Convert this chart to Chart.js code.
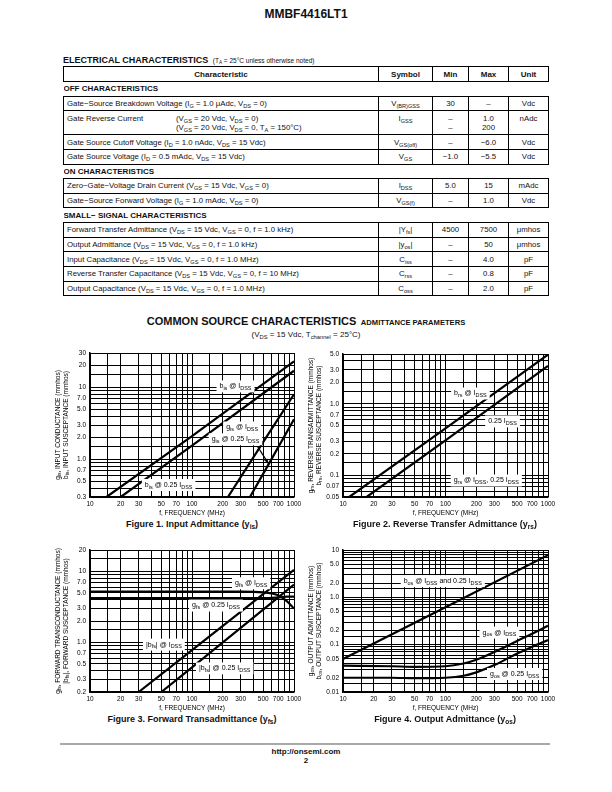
<!DOCTYPE html>
<html><head><meta charset="utf-8">
<script src="https://cdn.jsdelivr.net/npm/chart.js@4.4.1/dist/chart.umd.min.js"></script>
<style>
body{margin:0;background:#fff;}
#page{position:relative;width:612px;height:792px;overflow:hidden;font-family:"Liberation Sans",Arial,sans-serif;color:#111;}
.abs{position:absolute;white-space:nowrap;}
.narrow{font-family:"Liberation Sans Narrow","Liberation Sans",Arial,sans-serif;font-stretch:condensed;}
sub{font-size:72%;vertical-align:-0.3em;line-height:0;}
table{position:absolute;left:63px;top:66px;width:485px;border-collapse:collapse;table-layout:fixed;font-size:7.8px;line-height:9px;}
td,th{border:1px solid #000;padding:0 3px;text-align:center;white-space:nowrap;overflow:hidden;}
td.c{text-align:left;}
th{font-family:"Liberation Sans Narrow","Liberation Sans",Arial,sans-serif;font-weight:bold;font-size:8px;}
tr.h{height:15px;}
tr.r{height:14.7px;}
tr.d{height:24px;}
tr.d td{vertical-align:top;padding-top:2.5px;}
td.sec{border-left:none;border-right:none;text-align:left;padding-left:0;font-family:"Liberation Sans Narrow","Liberation Sans",Arial,sans-serif;font-weight:bold;font-size:8px;}
tr.s{height:14.5px;}
canvas{position:absolute;}
.cap{font-weight:bold;font-size:9px;text-align:center;width:300px;line-height:10px;}
</style></head>
<body><div id="page">
<div class="abs" style="left:0;width:612px;top:8px;text-align:center;font-weight:bold;font-size:12px;line-height:12px;">MMBF4416LT1</div>
<div class="abs" style="left:63px;top:53px;line-height:10px;"><span class="narrow" style="font-weight:bold;font-size:9px;">ELECTRICAL CHARACTERISTICS</span> <span style="font-size:6.5px;">(T<sub>A</sub> = 25°C unless otherwise noted)</span></div>
<table>
<colgroup><col style="width:315px"><col style="width:54px"><col style="width:36px"><col style="width:40px"><col style="width:40px"></colgroup>
<tr class="h"><th>Characteristic</th><th>Symbol</th><th>Min</th><th>Max</th><th>Unit</th></tr>
<tr class="s"><td class="sec" colspan="5">OFF CHARACTERISTICS</td></tr>
<tr class="r"><td class="c">Gate−Source Breakdown Voltage (I<sub>G</sub> = 1.0 μAdc, V<sub>DS</sub> = 0)</td><td>V<sub>(BR)GSS</sub></td><td>30</td><td>–</td><td>Vdc</td></tr>
<tr class="d"><td class="c"><span style="display:inline-block;width:109px;">Gate Reverse Current</span><span style="display:inline-block;vertical-align:top;">(V<sub>GS</sub> = 20 Vdc, V<sub>DS</sub> = 0)<br>(V<sub>GS</sub> = 20 Vdc, V<sub>DS</sub> = 0, T<sub>A</sub> = 150°C)</span></td><td>I<sub>GSS</sub></td><td>–<br>–</td><td>1.0<br>200</td><td>nAdc</td></tr>
<tr class="r"><td class="c">Gate Source Cutoff Voltage (I<sub>D</sub> = 1.0 nAdc, V<sub>DS</sub> = 15 Vdc)</td><td>V<sub>GS(off)</sub></td><td>–</td><td>−6.0</td><td>Vdc</td></tr>
<tr class="r"><td class="c">Gate Source Voltage (I<sub>D</sub> = 0.5 mAdc, V<sub>DS</sub> = 15 Vdc)</td><td>V<sub>GS</sub></td><td>−1.0</td><td>−5.5</td><td>Vdc</td></tr>
<tr class="s"><td class="sec" colspan="5">ON CHARACTERISTICS</td></tr>
<tr class="r"><td class="c">Zero−Gate−Voltage Drain Current (V<sub>GS</sub> = 15 Vdc, V<sub>GS</sub> = 0)</td><td>I<sub>DSS</sub></td><td>5.0</td><td>15</td><td>mAdc</td></tr>
<tr class="r"><td class="c">Gate−Source Forward Voltage (I<sub>G</sub> = 1.0 mAdc, V<sub>DS</sub> = 0)</td><td>V<sub>GS(f)</sub></td><td>–</td><td>1.0</td><td>Vdc</td></tr>
<tr class="s"><td class="sec" colspan="5">SMALL− SIGNAL CHARACTERISTICS</td></tr>
<tr class="r"><td class="c">Forward Transfer Admittance (V<sub>DS</sub> = 15 Vdc, V<sub>GS</sub> = 0, f = 1.0 kHz)</td><td>|Y<sub>fs</sub>|</td><td>4500</td><td>7500</td><td>μmhos</td></tr>
<tr class="r"><td class="c">Output Admittance (V<sub>DS</sub> = 15 Vdc, V<sub>GS</sub> = 0, f = 1.0 kHz)</td><td>|y<sub>os</sub>|</td><td>–</td><td>50</td><td>μmhos</td></tr>
<tr class="r"><td class="c">Input Capacitance (V<sub>DS</sub> = 15 Vdc, V<sub>GS</sub> = 0, f = 1.0 MHz)</td><td>C<sub>iss</sub></td><td>–</td><td>4.0</td><td>pF</td></tr>
<tr class="r"><td class="c">Reverse Transfer Capacitance (V<sub>DS</sub> = 15 Vdc, V<sub>GS</sub> = 0, f = 10 MHz)</td><td>C<sub>rss</sub></td><td>–</td><td>0.8</td><td>pF</td></tr>
<tr class="r"><td class="c">Output Capacitance (V<sub>DS</sub> = 15 Vdc, V<sub>GS</sub> = 0, f = 1.0 MHz)</td><td>C<sub>oss</sub></td><td>–</td><td>2.0</td><td>pF</td></tr>
</table>

<div class="abs" style="left:0;width:612px;top:314px;text-align:center;font-weight:bold;line-height:12px;"><span style="font-size:11px;">COMMON SOURCE CHARACTERISTICS</span> <span style="font-size:7.6px;">ADMITTANCE PARAMETERS</span></div>
<div class="abs" style="left:0;width:612px;top:330px;text-align:center;font-size:8px;line-height:9px;">(V<sub>DS</sub> = 15 Vdc, T<sub>channel</sub> = 25°C)</div>

<canvas id="c1"></canvas><canvas id="c2"></canvas><canvas id="c3"></canvas><canvas id="c4"></canvas>

<div class="abs cap" style="left:42px;top:519px;">Figure 1. Input Admittance (y<sub>is</sub>)</div>
<div class="abs cap" style="left:295px;top:519px;">Figure 2. Reverse Transfer Admittance (y<sub>rs</sub>)</div>
<div class="abs cap" style="left:42px;top:714px;">Figure 3. Forward Transadmittance (y<sub>fs</sub>)</div>
<div class="abs cap" style="left:295px;top:714px;">Figure 4. Output Admittance (y<sub>os</sub>)</div>

<div class="abs" style="left:60px;top:743px;width:490px;height:2px;background:#aaa;"></div>
<div class="abs" style="left:0;width:612px;top:747px;text-align:center;font-weight:bold;font-size:8px;line-height:9px;">http://onsemi.com<br>2</div>
</div>
<script>
// ---------- data ----------
const xGridMHz = [10,15,20,30,40,50,60,70,80,90,100,150,200,300,400,500,600,700,800,900,1000];
const xTickLabels = ['10','20','30','50','70','100','200','300','500','700','1000'];

const fig1YGrid = [0.3,0.4,0.5,0.6,0.7,0.8,0.9,1,1.5,2,3,4,5,6,7,8,9,10,15,20,30];
const fig1YLabels = ['0.3','0.5','0.7','1.0','2.0','3.0','5.0','7.0','10','20','30'];
const fig1BisIdssF = [14.5, 100, 1000];
const fig1BisIdss = [0.3, 2.1, 23];
const fig1Bis025F = [20, 100, 1000];
const fig1Bis025 = [0.3, 1.55, 17];
const fig1GisIdssF = [225, 500, 1000];
const fig1GisIdss = [0.3, 1.75, 8];
const fig1Gis025F = [370, 600, 1000];
const fig1Gis025 = [0.3, 1.0, 3.6];

const fig2YGrid = [0.05,0.06,0.07,0.08,0.09,0.1,0.15,0.2,0.3,0.4,0.5,0.6,0.7,0.8,0.9,1,1.5,2,3,4,5];
const fig2YLabels = ['0.05','0.07','0.1','0.2','0.3','0.5','0.7','1.0','2.0','3.0','5.0'];
const fig2BrsIdssF = [11.5, 100, 1000];
const fig2BrsIdss = [0.05, 0.455, 4.9];
const fig2Brs025F = [17, 100, 1000];
const fig2Brs025 = [0.05, 0.31, 3.4];

const fig3YGrid = [0.2,0.3,0.4,0.5,0.6,0.7,0.8,0.9,1,1.5,2,3,4,5,6,7,8,9,10,15,20];
const fig3YLabels = ['0.2','0.3','0.5','0.7','1.0','2.0','3.0','5.0','7.0','10','20'];
const fig3GfsIdssF = [10, 100, 300, 500, 700, 850, 1000];
const fig3GfsIdss = [5.2, 5.2, 5.2, 5.05, 4.6, 3.8, 3.0];
const fig3Gfs025F = [10, 100, 500, 700, 850, 1000];
const fig3Gfs025 = [4.2, 4.2, 4.2, 4.3, 4.4, 4.4];
const fig3BfsIdssF = [30, 100, 1000];
const fig3BfsIdss = [0.2, 0.78, 10.5];
const fig3Bfs025F = [50, 100, 1000];
const fig3Bfs025 = [0.2, 0.445, 6.5];

const fig4YGrid = [0.01,0.015,0.02,0.03,0.04,0.05,0.06,0.07,0.08,0.09,0.1,0.15,0.2,0.3,0.4,0.5,0.6,0.7,0.8,0.9,1,1.5,2,3,4,5,6,7,8,9,10];
const fig4YLabels = ['0.01','0.02','0.05','0.1','0.2','0.5','1.0','2.0','5.0','10'];
const fig4BosF = [10, 100, 1000];
const fig4Bos = [0.05, 0.62, 7.8];
const fig4GosIdssF = [10, 30, 50, 100, 150, 200, 300, 500, 700, 1000];
const fig4GosIdss = [0.036, 0.035, 0.034, 0.035, 0.04, 0.048, 0.07, 0.12, 0.17, 0.25];
const fig4Gos025F = [10, 30, 50, 100, 150, 200, 300, 500, 700, 1000];
const fig4Gos025 = [0.02, 0.02, 0.0195, 0.02, 0.022, 0.026, 0.037, 0.065, 0.09, 0.125];

// ---------- helpers ----------
const FONT = '"Liberation Sans", Arial, sans-serif';
Chart.defaults.font.family = FONT;
Chart.defaults.color = '#000';
const SUBR = 0.78;

function parseRich(s){
  const segs=[]; const re=/_\{([^}]*)\}/g; let last=0,m;
  while((m=re.exec(s))){ if(m.index>last) segs.push({t:s.slice(last,m.index),sub:false}); segs.push({t:m[1],sub:true}); last=re.lastIndex; }
  if(last<s.length) segs.push({t:s.slice(last),sub:false});
  return segs;
}
function richWidth(ctx,segs,fs){ let w=0; for(const g of segs){ ctx.font=(g.sub?fs*SUBR:fs)+'px '+FONT; w+=ctx.measureText(g.t).width; } return w; }
function drawRich(ctx,segs,x,y,fs){
  let cx=x; ctx.textBaseline='middle'; ctx.textAlign='left';
  for(const g of segs){ const sz=g.sub?fs*SUBR:fs; ctx.font=sz+'px '+FONT; ctx.fillText(g.t,cx,y+(g.sub?fs*0.3:0)); cx+=ctx.measureText(g.t).width; }
}

const notesPlugin = {
  id:'notes',
  afterDatasetsDraw(chart,args,opts){
    const {ctx, chartArea:ca, scales} = chart; const sx=scales.x, sy=scales.y;
    ctx.save();
    ctx.beginPath(); ctx.rect(ca.left,ca.top,ca.right-ca.left,ca.bottom-ca.top); ctx.clip();
    const fs=7;
    (opts.items||[]).forEach(it=>{
      const segs=parseRich(it.text); const w=richWidth(ctx,segs,fs);
      const px=sx.getPixelForValue(it.x), py=sy.getPixelForValue(it.y);
      ctx.fillStyle='#fff'; ctx.fillRect(px-w/2-3, py-fs/2-2.5, w+6, fs+5);
      ctx.fillStyle='#000'; drawRich(ctx,segs,px-w/2,py,fs);
    });
    (opts.arrows||[]).forEach(a=>{
      const x1=sx.getPixelForValue(a.from[0]), y1=sy.getPixelForValue(a.from[1]);
      const x2=sx.getPixelForValue(a.to[0]), y2=sy.getPixelForValue(a.to[1]);
      ctx.strokeStyle='#000'; ctx.lineWidth=1.2; ctx.beginPath(); ctx.moveTo(x1,y1); ctx.lineTo(x2,y2); ctx.stroke();
      const ang=Math.atan2(y2-y1,x2-x1), L=5;
      ctx.fillStyle='#000'; ctx.beginPath(); ctx.moveTo(x2,y2);
      ctx.lineTo(x2-L*Math.cos(ang-0.4), y2-L*Math.sin(ang-0.4));
      ctx.lineTo(x2-L*Math.cos(ang+0.4), y2-L*Math.sin(ang+0.4)); ctx.closePath(); ctx.fill();
    });
    ctx.restore();
  },
  afterDraw(chart,args,opts){
    const {ctx, chartArea:ca} = chart; const cy=(ca.top+ca.bottom)/2; const fs=6.5;
    (opts.yTitles||[]).forEach((t,i)=>{
      const segs=parseRich(t);
      ctx.save(); ctx.translate(ca.left+opts.yTitleOffsets[i], cy); ctx.rotate(-Math.PI/2);
      const w=richWidth(ctx,segs,fs); ctx.fillStyle='#000'; drawRich(ctx,segs,-w/2,0,fs); ctx.restore();
    });
  }
};

function labelMap(arr){ const m={}; arr.forEach(s=>{ m[String(parseFloat(s))]=s; }); return m; }

function makeChart(id, plot, yGrid, yLabels, series, notes, yTitles){
  const PL=45, PT=8, PR=14, XH=20, YW=22;
  const cv=document.getElementById(id);
  cv.width = plot.R-plot.L+PL+PR; cv.height = plot.B-plot.T+PT+XH;
  cv.style.left=(plot.L-PL)+'px'; cv.style.top=(plot.T-PT)+'px';
  const xm=labelMap(xTickLabels), ym=labelMap(yLabels);
  new Chart(cv,{
    type:'line',
    data:{datasets: series.map(s=>({
      data: s.f.map((f,i)=>({x:f,y:s.v[i]})),
      borderColor:'#000', borderWidth:2.2, pointRadius:0, fill:false,
      tension: s.curve?0.4:0, cubicInterpolationMode: s.curve?'monotone':'default'
    }))},
    options:{
      responsive:false, animation:false, devicePixelRatio:1,
      layout:{padding:{left:PL-YW, top:PT, right:PR, bottom:0}},
      plugins:{legend:{display:false}, tooltip:{enabled:false},
        notes:{items:notes.items||[], arrows:notes.arrows||[], yTitles:yTitles, yTitleOffsets:[-32,-24]}},
      scales:{
        x:{type:'logarithmic', min:10, max:1000, bounds:'data',
          afterBuildTicks:s=>{ s.ticks = xGridMHz.map(v=>({value:v})); },
          afterFit:s=>{ s.height=XH; s.paddingLeft=0; s.paddingRight=0; },
          ticks:{autoSkip:false, maxRotation:0, minRotation:0, padding:3.5, font:{size:6.5}, color:'#000',
            callback:v=> xm[String(v)] ?? ''},
          grid:{color:'#000', lineWidth:1, drawTicks:false},
          border:{display:true, color:'#000', width:1.5},
          title:{display:true, text:'f, FREQUENCY (MHz)', padding:0, font:{size:6.5}, color:'#000'}
        },
        y:{type:'logarithmic', min:yGrid[0], max:yGrid[yGrid.length-1], bounds:'data',
          afterBuildTicks:s=>{ s.ticks = yGrid.map(v=>({value:v})); },
          afterFit:s=>{ s.width=YW; s.paddingTop=0; s.paddingBottom=0; },
          ticks:{autoSkip:false, padding:4, font:{size:6.5}, color:'#000',
            callback:v=> ym[String(v)] ?? ''},
          grid:{color:'#000', lineWidth:1, drawTicks:false},
          border:{display:true, color:'#000', width:1.5}
        }
      }
    },
    plugins:[notesPlugin]
  });
}

makeChart('c1', {L:90,R:294,T:353,B:497}, fig1YGrid, fig1YLabels, [
  {f:fig1BisIdssF, v:fig1BisIdss},
  {f:fig1Bis025F, v:fig1Bis025},
  {f:fig1GisIdssF, v:fig1GisIdss},
  {f:fig1Gis025F, v:fig1Gis025}
], {items:[
  {text:'b_{is} @ I_{DSS}', x:267, y:10.3},
  {text:'g_{is} @ I_{DSS}', x:310, y:2.77},
  {text:'g_{is} @ 0.25 I_{DSS}', x:267, y:1.9},
  {text:'b_{is} @ 0.25 I_{DSS}', x:59, y:0.44}
], arrows:[{from:[440,1.5], to:[560,0.88]}]},
['g_{is}, INPUT CONDUCTANCE (mmhos)','b_{is}, INPUT SUSCEPTANCE (mmhos)']);

makeChart('c2', {L:343,R:548,T:354,B:497}, fig2YGrid, fig2YLabels, [
  {f:fig2BrsIdssF, v:fig2BrsIdss},
  {f:fig2Brs025F, v:fig2Brs025}
], {items:[
  {text:'b_{rs} @ I_{DSS}', x:175, y:1.4},
  {text:'0.25 I_{DSS}', x:360, y:0.57},
  {text:'g_{rs} @ I_{DSS}, 0.25 I_{DSS}', x:250, y:0.085}
]},
['g_{rs}, REVERSE TRANSADMITTANCE (mmhos)','b_{rs}, REVERSE SUSCEPTANCE (mmhos)']);

makeChart('c3', {L:90,R:294,T:550,B:692}, fig3YGrid, fig3YLabels, [
  {f:fig3GfsIdssF, v:fig3GfsIdss, curve:true},
  {f:fig3Gfs025F, v:fig3Gfs025, curve:true},
  {f:fig3BfsIdssF, v:fig3BfsIdss},
  {f:fig3Bfs025F, v:fig3Bfs025}
], {items:[
  {text:'g_{fs} @ I_{DSS}', x:380, y:6.8},
  {text:'g_{fs} @ 0.25 I_{DSS}', x:172, y:3.3},
  {text:'|b_{fs}| @ I_{DSS}', x:53, y:0.93},
  {text:'|b_{fs}| @ 0.25 I_{DSS}', x:209, y:0.43}
]},
['g_{fs}, FORWARD TRANSCONDUCTANCE (mmhos)','|b_{fs}|, FORWARD SUSCEPTANCE (mmhos)']);

makeChart('c4', {L:343,R:548,T:550,B:692}, fig4YGrid, fig4YLabels, [
  {f:fig4BosF, v:fig4Bos},
  {f:fig4GosIdssF, v:fig4GosIdss, curve:true},
  {f:fig4Gos025F, v:fig4Gos025, curve:true}
], {items:[
  {text:'b_{os} @ I_{DSS} and 0.25 I_{DSS}', x:94, y:2.2},
  {text:'g_{os} @ I_{DSS}', x:336, y:0.18},
  {text:'g_{os} @ 0.25 I_{DSS}', x:473, y:0.024}
]},
['g_{os}, OUTPUT ADMITTANCE (mmhos)','b_{os}, OUTPUT SUSCEPTANCE (mmhos)']);
</script>
</body></html>
